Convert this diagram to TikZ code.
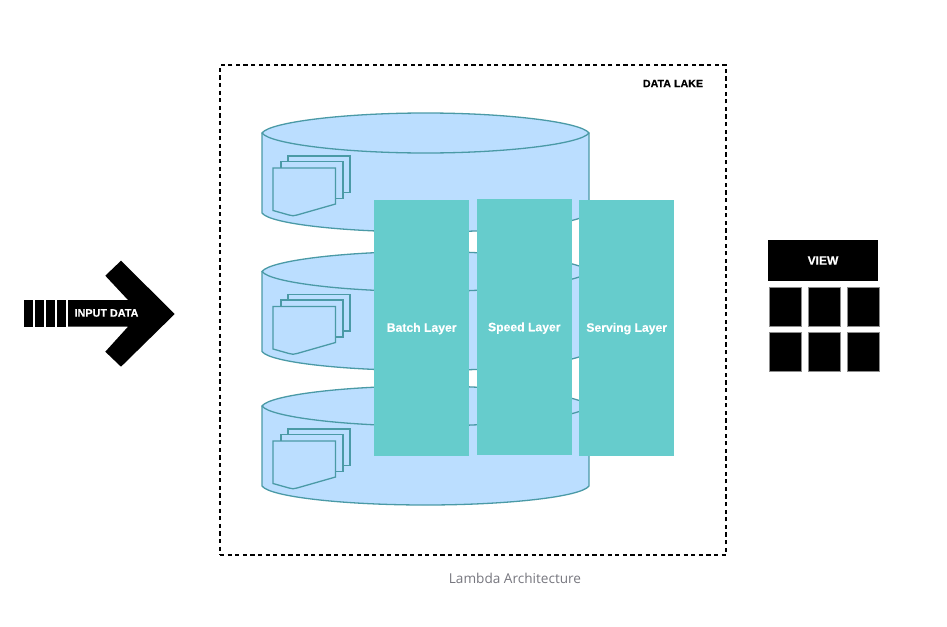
\documentclass[tikz,border=0pt]{standalone}
\usepackage{fontspec}
\setmainfont{Liberation Sans}[BoldFeatures={FakeBold=0.4}]
\newfontfamily\captionfont{Open Sans}
\definecolor{drumfill}{HTML}{BBDEFF}
\definecolor{drumline}{HTML}{4A9AA6}
\definecolor{layerfill}{HTML}{66CCCC}
\definecolor{captiongray}{HTML}{77777F}
\tikzset{
  drumshape/.style={fill=drumfill,draw=drumline,line width=1.3pt,line join=round},
  pageshape/.style={fill=drumfill,draw=drumline,line width=1.3pt,line join=miter},
  layerbox/.style={fill=layerfill,draw=none,minimum width=94.7pt,inner sep=0pt,text=white,text height=8.5pt,text depth=0pt,font=\bfseries\fontsize{12.2}{14}\selectfont},
  blackshape/.style={fill=black,draw=none},
  cellbox/.style={fill=black,draw=black!45,line width=0.5pt,minimum width=32pt,minimum height=39pt,inner sep=0pt},
  whitelabel/.style={text=white,inner sep=0pt,font=\bfseries\fontsize{10.8}{12}\selectfont},
  drum/.pic={
    \path[drumshape] (262,133) -- (262,213) .. controls (270,224) and (345,232) .. (425.5,232)
      .. controls (506,232) and (581,224) .. (589,213) -- (589,133) -- cycle;
    \path[drumshape] (262,133) .. controls (270,122) and (345,113) .. (425.5,113)
      .. controls (506,113) and (581,122) .. (589,133)
      .. controls (581,144) and (506,153) .. (425.5,153)
      .. controls (345,153) and (270,144) .. (262,133) -- cycle;
    \path[pageshape] (288,156) rectangle (350,192.5);
    \path[pageshape] (281,161.5) rectangle (343,198.5);
    \path[pageshape] (273,168) -- (335.5,168) -- (335.5,204) -- (297,215)
      .. controls (294,216) and (292,216) .. (289,215) -- (273,210.5) -- cycle;
  }
}
\begin{document}
\begin{tikzpicture}[x=1pt,y=-1pt]
\useasboundingbox (0,0) rectangle (947,626);
\fill[white] (0,0) rectangle (947,626);
% data lake frame
\node[draw=black,line width=2.4pt,dash pattern=on 4.2pt off 3.4pt,minimum width=506pt,minimum height=490pt,inner sep=0pt] (lake) at (473,310) {};
\node[inner sep=0pt,font=\bfseries\fontsize{10.7}{12}\selectfont] (laketitle) at (673,83.5) {DATA LAKE};
% drums
\pic (drumA) at (0,0) {drum};
\pic (drumB) at (0,138.5) {drum};
\pic (drumC) at (0,273) {drum};
% layers
\node[layerbox,minimum height=256pt] (batch) at (421.7,327.5) {Batch Layer};
\node[layerbox,minimum height=256pt] (speed) at (524.3,327) {Speed Layer};
\node[layerbox,minimum height=256pt] (serving) at (626.7,327.5) {Serving Layer};
% input arrow
\fill[blackshape] (23.7,300) rectangle (33,326.7);
\fill[blackshape] (34.7,300) rectangle (44,326.7);
\fill[blackshape] (46,300) rectangle (55,326.7);
\fill[blackshape] (57,300) rectangle (66,326.7);
\fill[blackshape] (68,300) -- (128,300) -- (105.3,275.7) -- (121,260.7) -- (174.7,314)
  -- (121,366.7) -- (105.3,351.7) -- (128,326.7) -- (68,326.7) -- cycle;
\node[whitelabel] (input) at (106.5,313) {INPUT DATA};
% view
\node[blackshape,minimum width=110pt,minimum height=41pt,inner sep=0pt,text=white,font=\bfseries\fontsize{12}{14}\selectfont] (view) at (823,260.5) {VIEW};
\node[cellbox] (c11) at (785,306.5) {};
\node[cellbox] (c12) at (824,306.5) {};
\node[cellbox] (c13) at (863,306.5) {};
\node[cellbox] (c21) at (785,352) {};
\node[cellbox] (c22) at (824,352) {};
\node[cellbox] (c23) at (863,352) {};
% caption
\node[inner sep=0pt,text=captiongray,font=\captionfont\fontsize{13.6}{16}\selectfont] (caption) at (515,578) {Lambda Architecture};
\end{tikzpicture}
\end{document}
